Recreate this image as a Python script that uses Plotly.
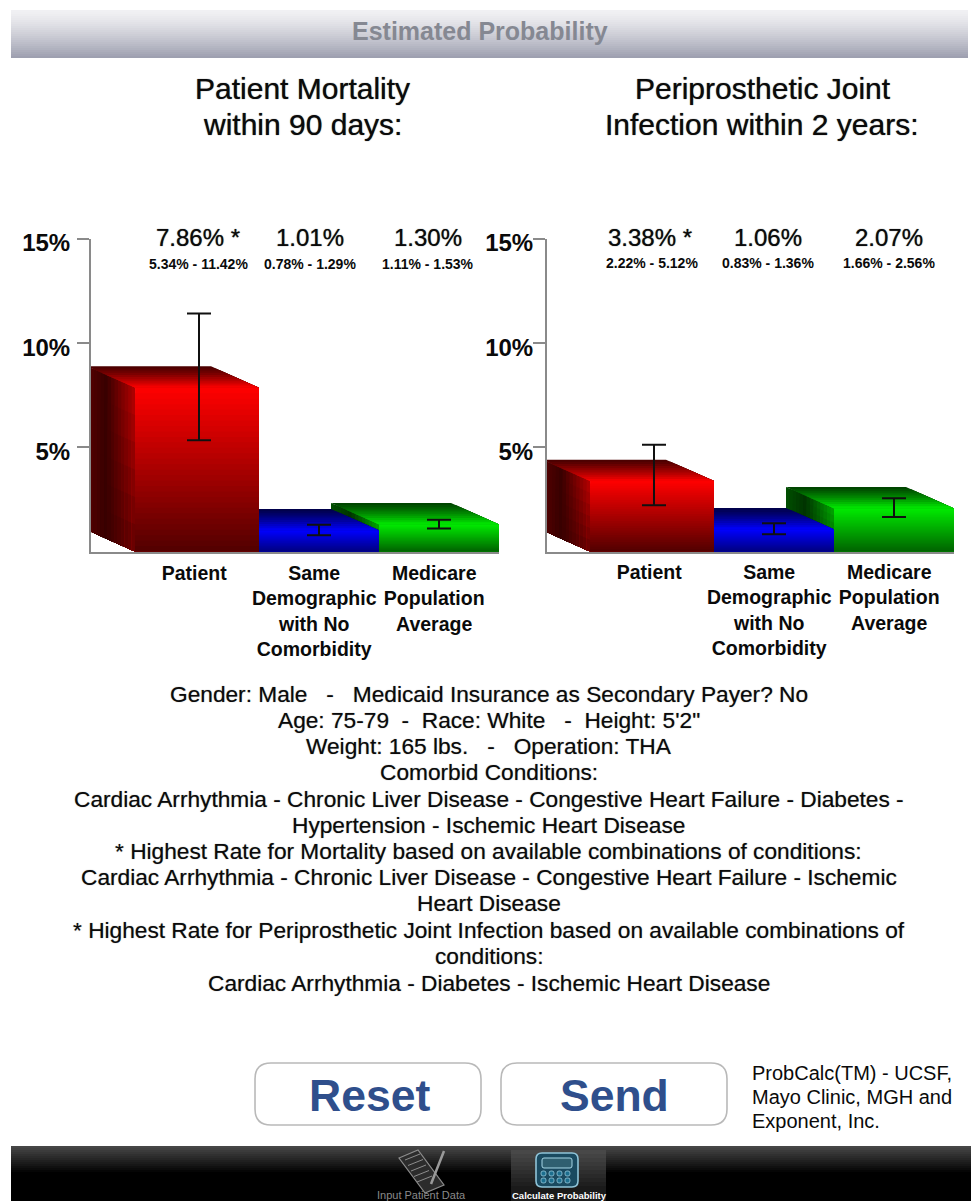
import plotly.graph_objects as go

W, H = 971, 1201
FONT = "Liberation Sans"

categories = ["Patient", "Same<br>Demographic<br>with No<br>Comorbidity", "Medicare<br>Population<br>Average"]
y_ticks = [5, 10, 15]
y_tick_labels = ["5%", "10%", "15%"]

mortality = [7.86, 1.01, 1.30]
mortality_low = [5.34, 0.78, 1.11]
mortality_high = [11.42, 1.29, 1.53]
mortality_value_labels = ["7.86% *", "1.01%", "1.30%"]
mortality_range_labels = ["5.34% - 11.42%", "0.78% - 1.29%", "1.11% - 1.53%"]

infection = [3.38, 1.06, 2.07]
infection_low = [2.22, 0.83, 1.66]
infection_high = [5.12, 1.36, 2.56]
infection_value_labels = ["3.38% *", "1.06%", "2.07%"]
infection_range_labels = ["2.22% - 5.12%", "0.83% - 1.36%", "1.66% - 2.56%"]

body_lines = [
    "Gender: Male\u00a0\u00a0\u00a0-\u00a0\u00a0\u00a0Medicaid Insurance as Secondary Payer? No",
    "Age: 75-79\u00a0\u00a0-\u00a0\u00a0Race: White\u00a0\u00a0\u00a0-\u00a0\u00a0Height: 5'2\"",
    "Weight: 165 lbs.\u00a0\u00a0\u00a0-\u00a0\u00a0\u00a0Operation: THA",
    "Comorbid Conditions:",
    "Cardiac Arrhythmia - Chronic Liver Disease - Congestive Heart Failure - Diabetes -",
    "Hypertension - Ischemic Heart Disease",
    "* Highest Rate for Mortality based on available combinations of conditions:",
    "Cardiac Arrhythmia - Chronic Liver Disease - Congestive Heart Failure - Ischemic",
    "Heart Disease",
    "* Highest Rate for Periprosthetic Joint Infection based on available combinations of",
    "conditions:",
    "Cardiac Arrhythmia - Diabetes - Ischemic Heart Disease",
]
body_y = [694, 720, 746, 772, 799, 825, 851, 877, 903, 930, 956, 983]

hues = [(255, 0, 0), (0, 0, 255), (0, 235, 0)]
floors = [0.32, 0.5, 0.42]
LEFT_EDGE = [-0.533, 0.5, 1.5]
RIGHT_EDGE = [0.5, 1.5, 2.5]
DX, DY = 0.4, 1.03
SOFT = "0 0 1px rgba(0,0,0,0.75)"
FAINT = "0 0 1px rgba(0,0,0,0.5)"


def X(p):
    return p / W


def Y(p):
    return 1 - p / H


def shade(rgb, k):
    k = max(0.0, min(1.0, k))
    return "rgb(%d,%d,%d)" % tuple(round(c * k) for c in rgb)


def poly(fig, xs, ys, color, xa, ya):
    fig.add_trace(go.Scatter(
        x=xs + xs[:1], y=ys + ys[:1], mode="lines", fill="toself", fillcolor=color,
        line=dict(color=color, width=0), hoverinfo="skip", showlegend=False,
        xaxis=xa, yaxis=ya))


def draw_bar(fig, i, v, xa, ya):
    rgb, fl = hues[i], floors[i]
    x0, x1 = LEFT_EDGE[i], RIGHT_EDGE[i]
    # left side face: each quad runs on to the far edge, so the next one covers any seam
    nu, nt = 14, 6
    for a in range(nu):
        for b in range(nt):
            u0 = a / nu
            t0 = b / nt
            um, tm = (a + 0.5) / nu, (b + 0.5) / nt

            def pt(u, t):
                xx = x0 - DX * (1 - u)
                top = v + DY * (1 - u)
                bot = DY * (1 - u)
                return xx, top + (bot - top) * t
            k = 0.34 - 0.3 * um if um < 0.4 else 0.22 + (um - 0.4) * 0.85 * (1 - 0.65 * tm)
            ps = [pt(u0, t0), pt(1, t0), pt(1, 1), pt(u0, 1)]
            poly(fig, [p[0] for p in ps], [p[1] for p in ps], shade(rgb, k), xa, ya)
    # top face, dark at the back and bright at the front
    n = 10
    for k in range(n):
        s0 = k / n
        sm = (k + 0.5) / n
        xs = [x0 - DX * (1 - s0), x1 - DX * (1 - s0), x1, x0]
        ys = [v + DY * (1 - s0), v + DY * (1 - s0), v, v]
        poly(fig, xs, ys, shade(rgb, 0.28 + 0.72 * sm ** 1.2), xa, ya)
    # front face
    n = 30
    for k in range(n):
        t0 = k / n
        tm = (k + 0.5) / n
        poly(fig, [x0, x1, x1, x0], [v * (1 - t0), v * (1 - t0), 0, 0], shade(rgb, 1 - (1 - fl) * tm), xa, ya)


def draw_chart(fig, vals, low, high, xa, ya):
    # the real bars, with the shaded faces painted over them
    fig.add_trace(go.Bar(
        x=[0, 1, 2], y=vals, width=1, hoverinfo="skip", showlegend=False,
        marker=dict(color=[shade(c, 0.7) for c in hues], line=dict(width=0)),
        xaxis=xa, yaxis=ya))
    for i in (2, 1, 0):
        draw_bar(fig, i, vals[i], xa, ya)
    fig.add_trace(go.Scatter(
        x=[0, 1, 2], y=vals, mode="markers", marker=dict(size=1, color="rgba(0,0,0,0)"),
        error_y=dict(type="data", symmetric=False,
                     array=[h - v for h, v in zip(high, vals)],
                     arrayminus=[v - l for l, v in zip(low, vals)],
                     color="#101010", thickness=2, width=12),
        hoverinfo="skip", showlegend=False, xaxis=xa, yaxis=ya))


fig = go.Figure()
draw_chart(fig, mortality, mortality_low, mortality_high, "x", "y")
draw_chart(fig, infection, infection_low, infection_high, "x2", "y2")

ann = []


def text(s, x, y, size, color="#0a0a0a", bold=False, align="center", shadow=None):
    f = dict(family=FONT, size=size, color=color)
    if shadow:
        f["shadow"] = shadow
    ann.append(dict(
        text="<b>%s</b>" % s if bold else s, x=X(x), y=Y(y), xref="paper", yref="paper",
        xanchor=align, yanchor="middle", showarrow=False, align=align, borderpad=0, font=f))


text("Estimated Probability", 480, 31, 25, "#858892", True)
text("Patient Mortality", 302, 89, 30, shadow=SOFT)
text("within 90 days:", 302, 124, 30, shadow=SOFT)
text("Periprosthetic Joint", 763, 89, 30, shadow=SOFT)
text("Infection within 2 years:", 762, 124, 30, shadow=SOFT)

for s, x in zip(mortality_value_labels, [198, 310, 428]):
    text(s, x, 238, 24, shadow=SOFT)
for s, x in zip(mortality_range_labels, [198, 310, 428]):
    text(s, x, 264, 14, bold=True)
for s, x in zip(infection_value_labels, [650, 768, 889]):
    text(s, x, 238, 24, shadow=SOFT)
for s, x in zip(infection_range_labels, [652, 768, 889]):
    text(s, x, 263, 14, bold=True)

for s, y in zip(body_lines, body_y):
    text(s, 489, y, 22.7, shadow=FAINT)

text("Reset", 369, 1095, 44.5, "#2f4f8c", True)
text("Send", 614, 1095, 44.5, "#2f4f8c", True)
for s, y in zip(["ProbCalc(TM) - UCSF,", "Mayo Clinic, MGH and", "Exponent, Inc."], [1073, 1097, 1121]):
    text(s, 751, y, 20, align="left")
text("Input Patient Data", 421, 1195, 11, "#8a8a8a")
text("Calculate Probability", 559, 1195, 9.5, "#ffffff", True)

shapes = []


def rect(x0, y0, x1, y1, fill, layer="below"):
    shapes.append(dict(type="rect", xref="paper", yref="paper", x0=X(x0), x1=X(x1), y0=Y(y0), y1=Y(y1),
                       fillcolor=fill, line=dict(color=fill, width=0), layer=layer))


def lerp(a, b, t):
    return tuple(round(p + (q - p) * t) for p, q in zip(a, b))


# header band
n = 24
for k in range(n):
    c = lerp((240, 240, 243), (158, 160, 176), (k / (n - 1)) ** 1.3)
    rect(11, 10 + k * 2, 968, 58, "rgb(%d,%d,%d)" % c)

# tab bar
rect(11, 1146, 971, 1201, "#000000")
n = 14
for k in range(n):
    c = lerp((70, 70, 70), (0, 0, 0), k / (n - 1))
    rect(11, 1146 + k * 2, 971, 1201, "rgb(%d,%d,%d)" % c)
n = 10
for k in range(n):
    c = lerp((72, 72, 72), (26, 26, 26), k / (n - 1))
    rect(511, 1150 + k * 4, 606, 1201, "rgb(%d,%d,%d)" % c)


def path(d, fill="rgba(0,0,0,0)", line="#888", lw=1.2):
    shapes.append(dict(type="path", xref="paper", yref="paper", path=d, fillcolor=fill,
                       line=dict(color=line, width=lw), layer="above"))


def P(*xy):
    s = []
    for i, (a, b) in enumerate(xy):
        s.append(("M" if i == 0 else "L") + " %.5f %.5f" % (X(a), Y(b)))
    return " ".join(s) + " Z"


def rounded(x0, x1, y0, y1, r, fill, line, lw):
    d = "M %.5f %.5f L %.5f %.5f Q %.5f %.5f %.5f %.5f L %.5f %.5f Q %.5f %.5f %.5f %.5f L %.5f %.5f Q %.5f %.5f %.5f %.5f L %.5f %.5f Q %.5f %.5f %.5f %.5f Z" % (
        X(x0 + r), Y(y0), X(x1 - r), Y(y0), X(x1), Y(y0), X(x1), Y(y0 + r),
        X(x1), Y(y1 - r), X(x1), Y(y1), X(x1 - r), Y(y1),
        X(x0 + r), Y(y1), X(x0), Y(y1), X(x0), Y(y1 - r),
        X(x0), Y(y0 + r), X(x0), Y(y0), X(x0 + r), Y(y0))
    path(d, fill, line, lw)


rounded(255, 481, 1063, 1125, 16, "#ffffff", "#b9b9b9", 1.6)
rounded(501, 727, 1063, 1125, 16, "#ffffff", "#b9b9b9", 1.6)

# notepad icon
path(P((399, 1158), (418, 1150), (444, 1185), (425, 1193)), "#2c2c2c", "#8c8c8c", 1.2)
for k in range(5):
    shapes.append(dict(type="line", xref="paper", yref="paper",
                       x0=X(405 + k * 3), y0=Y(1160 + k * 5.5), x1=X(420 + k * 3), y1=Y(1154 + k * 5.5),
                       line=dict(color="#8c8c8c", width=1)))
shapes.append(dict(type="line", xref="paper", yref="paper", x0=X(431), y0=Y(1184), x1=X(444), y1=Y(1151),
                   line=dict(color="#9a9a9a", width=2.5)))

# calculator icon
rounded(536, 578, 1153, 1187, 6, "#1a4a60", "#8fc4d8", 1.6)
rounded(542, 572, 1158, 1168, 2, "#2f5f70", "#a6d6e6", 1)
for r_ in range(2):
    for c_ in range(4):
        rounded(541 + c_ * 8, 546 + c_ * 8, 1171 + r_ * 7, 1176 + r_ * 7, 2, "#1d6f8f", "#a6d6e6", 0.7)

axis_gray = "#8a8a8a"
tickfont = dict(family=FONT, size=24, color="#0a0a0a")
catfont = dict(family=FONT, size=19.5, color="#0a0a0a")
bold_cats = ["<b>%s</b>" % c.replace("<br>", "</b><br><b>") for c in categories]
bold_y = ["<b>%s</b>" % t for t in y_tick_labels]


def xaxis(p0, p1, centre, anchor, standoff):
    return dict(domain=[X(p0), X(p1)], range=[(p0 - centre) / 120, (p1 - centre) / 120], anchor=anchor,
                tickmode="array", tickvals=[-0.04, 0.96, 1.96], ticktext=bold_cats,
                tickfont=catfont, ticks="", showgrid=False, zeroline=False, automargin=False,
                ticklabelstandoff=standoff,
                showline=True, linecolor=axis_gray, linewidth=2, tickangle=0)


def yaxis(anchor, standoff):
    return dict(domain=[Y(551.5), Y(239)], range=[0, 15], anchor=anchor,
                tickmode="array", tickvals=y_ticks, ticktext=bold_y, tickfont=tickfont,
                ticks="outside", ticklen=12, tickwidth=2, tickcolor=axis_gray,
                ticklabelstandoff=standoff, ticklabelshift=4, automargin=False,
                showgrid=False, zeroline=False, showline=True, linecolor=axis_gray, linewidth=2)


fig.update_layout(
    width=W, height=H, autosize=False, margin=dict(l=0, r=0, t=0, b=0),
    paper_bgcolor="#ffffff", plot_bgcolor="rgba(0,0,0,0)", barmode="overlay", showlegend=False,
    xaxis=xaxis(91, 499, 199, "y", 3), yaxis=yaxis("x", 2),
    xaxis2=xaxis(547, 954, 654, "y2", 2), yaxis2=yaxis("x2", -5),
    annotations=ann, shapes=shapes, font=dict(family=FONT),
)
fig.write_html("out.html", config={"displayModeBar": False},
               post_script="document.body.style.margin='0';document.body.style.overflow='hidden';")
